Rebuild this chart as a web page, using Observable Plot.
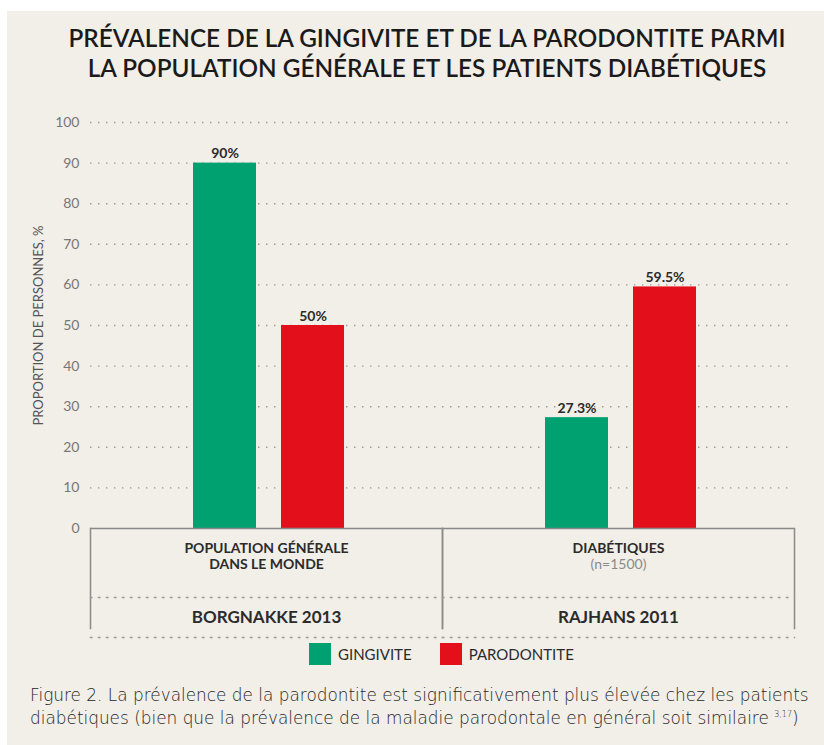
<!DOCTYPE html>
<html><head><meta charset="utf-8">
<script src="https://cdn.jsdelivr.net/npm/d3@7"></script>
<script src="https://cdn.jsdelivr.net/npm/@observablehq/plot@0.6"></script>
<style>
html,body{margin:0;padding:0;background:#fff;}
#page{position:relative;width:824px;height:745px;overflow:hidden;font-family:Lato,"Noto Sans",sans-serif;}
#bg{position:absolute;left:7px;top:11px;right:0;bottom:0;background:#f2eee8;}
#title{position:absolute;left:30px;width:794px;top:22px;text-align:center;font-size:25px;line-height:30px;font-weight:600;color:#1a1a1a;}
#title div{white-space:nowrap;transform:scaleX(0.972);transform-origin:center;}
#chart{position:absolute;left:0;top:100px;}
#legend{position:absolute;left:309px;top:643px;}
#legend div{min-height:0 !important;margin:0 !important;font-family:Lato,sans-serif !important;font-size:15px !important;color:#2b2b2b;}
#legend span{margin-right:28px !important;}
#legend svg{margin-right:7px !important;}
#caption{position:absolute;left:30px;top:684px;font-family:"DejaVu Sans",sans-serif;font-size:16.9px;line-height:23px;font-weight:200;color:#262626;white-space:nowrap;}
#caption sup{font-size:8px;vertical-align:7px;line-height:0;}
</style></head>
<body>
<div id="page">
  <div id="bg"></div>
  <div id="title"><div>PRÉVALENCE DE LA GINGIVITE ET DE LA PARODONTITE PARMI</div><div>LA POPULATION GÉNÉRALE ET LES PATIENTS DIABÉTIQUES</div></div>
  <div id="chart"></div>
  <div id="legend"></div>
  <div id="caption">Figure 2. La prévalence de la parodontite est significativement plus élevée chez les patients<br>diabétiques (bien que la prévalence de la maladie parodontale en général soit similaire <sup>3,17</sup>)</div>
</div>
<script>
const groups = ["POPULATION GÉNÉRALE\nDANS LE MONDE", "DIABÉTIQUES"];
const groupNotes = ["", "(n=1500)"];
const sources = ["BORGNAKKE 2013", "RAJHANS 2011"];
const series = ["GINGIVITE", "PARODONTITE"];
const gingivite = [90, 27.3];
const parodontite = [50, 59.5];
const seriesColors = ["#00a171", "#e3101b"];
const yTicks = [0, 10, 20, 30, 40, 50, 60, 70, 80, 90, 100];
const yLabel = "PROPORTION DE PERSONNES, %";

const rows = groups.flatMap((g, i) => [
  {group: g, series: series[0], value: gingivite[i]},
  {group: g, series: series[1], value: parodontite[i]}
]);
const groupRows = groups.map((g, i) => ({group: g, note: groupNotes[i], source: sources[i]}));

const dotted = {stroke: "#9a9a9a", strokeWidth: 1.4, strokeDasharray: "1.4,6.6"};
const solid = {stroke: "#8a8a8a", strokeWidth: 1.5};

const plot = Plot.plot({
  width: 824, height: 545,
  marginTop: 22, marginBottom: 117, marginLeft: 89, marginRight: 30,
  style: {background: "transparent", fontFamily: "Lato, sans-serif", fontSize: "14px", color: "#777", overflow: "visible"},
  fx: {domain: groups, padding: 0, axis: null, label: null},
  x: {domain: series, paddingInner: 25 / 88, paddingOuter: 1.142, align: 0.51, axis: null},
  y: {domain: [0, 100], ticks: yTicks, tickSize: 0, tickPadding: 11, label: null, tickFormat: d => String(d)},
  color: {domain: series, range: seriesColors},
  marks: [
    Plot.ruleY(yTicks.filter(d => d > 0), dotted),
    Plot.barY(rows, {fx: "group", x: "series", y: "value", fill: "series"}),
    Plot.text(rows, {fx: "group", x: "series", y: "value", text: d => d.value + "%", dy: -5, lineAnchor: "bottom", fill: "#2b2b2b", fontWeight: 700, fontSize: 14}),
    Plot.ruleY([0], solid),
    Plot.frame({anchor: "left", insetTop: 406, insetBottom: -100, ...solid}),
    Plot.frame({anchor: "right", insetTop: 406, insetBottom: -100, ...solid}),
    Plot.frame({anchor: "bottom", insetBottom: -69, ...dotted}),
    Plot.frame({anchor: "bottom", insetBottom: -109, ...dotted}),
    Plot.text(groupRows, {fx: "group", text: "group", frameAnchor: "bottom", lineAnchor: "top", dy: 12, lineHeight: 1.21, fontWeight: 700, fontSize: 14, fill: "#2b2b2b"}),
    Plot.text(groupRows, {fx: "group", text: "note", frameAnchor: "bottom", lineAnchor: "top", dy: 31, fontSize: 14, fill: "#8a8a8a"}),
    Plot.text(groupRows, {fx: "group", text: "source", frameAnchor: "bottom", lineAnchor: "top", dy: 82, fontSize: 17, fontWeight: 700, fill: "#2b2b2b"}),
    Plot.text([yLabel], {fx: () => groups[0], text: d => d, frameAnchor: "left", textAnchor: "middle", rotate: -90, dx: -52, fontSize: 13, fill: "#555"})
  ]
});
document.getElementById("chart").appendChild(plot);
document.getElementById("legend").appendChild(plot.legend("color", {swatchSize: 22}));
</script>
</body></html>
